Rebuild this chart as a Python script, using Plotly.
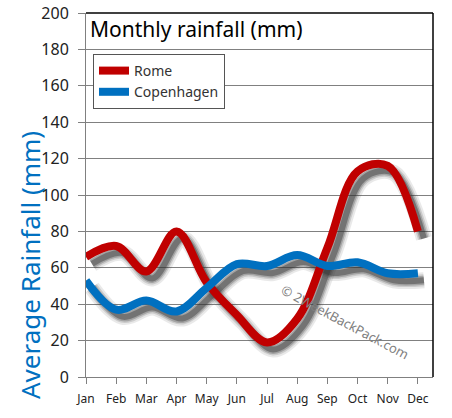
import plotly.graph_objects as go

months = ["Jan", "Feb", "Mar", "Apr", "May", "Jun", "Jul", "Aug", "Sep", "Oct", "Nov", "Dec"]
rome = [66, 72, 58, 80, 52, 34, 19, 32, 71, 113, 116, 80]
copenhagen = [53, 37, 42, 36, 49, 62, 61, 67, 61, 63, 57, 57]
y_ticks = [0, 20, 40, 60, 80, 100, 120, 140, 160, 180, 200]

xs = list(range(len(months)))
FONT = "Noto Sans"
RED = "#c00000"
BLUE = "#0070c0"

fig = go.Figure()

# drop shadows on the base axes (ranges shifted so the shadow sits right/below)
for series in (rome, copenhagen):
    for w, op in ((16, 0.10), (12, 0.16), (9, 0.26), (6, 0.42)):
        fig.add_trace(go.Scatter(x=xs, y=series, mode="lines", xaxis="x", yaxis="y",
                                 line=dict(color="#333333", width=w, shape="spline", smoothing=1.0),
                                 opacity=op, showlegend=False, hoverinfo="skip"))

fig.add_trace(go.Scatter(x=xs, y=rome, mode="lines", name="Rome", xaxis="x2", yaxis="y2",
                         line=dict(color=RED, width=8, shape="spline", smoothing=1.0)))
fig.add_trace(go.Scatter(x=xs, y=copenhagen, mode="lines", name="Copenhagen", xaxis="x2", yaxis="y2",
                         line=dict(color=BLUE, width=8, shape="spline", smoothing=1.0)))

W, H = 452, 418
ml, mr, mt, mb = 86, 19, 13, 41
pw, ph = W - ml - mr, H - mt - mb
xr = [0, 11.5]
yr = [0, 200]
dx = 6 / pw * (xr[1] - xr[0])
dy = 7 / ph * (yr[1] - yr[0])


def px(X):
    return (X - ml) / pw


def py(Y):
    return (H - mb - Y) / ph


fig.update_layout(
    width=W, height=H,
    margin=dict(l=ml, r=mr, t=mt, b=mb),
    paper_bgcolor="white", plot_bgcolor="white",
    font=dict(family=FONT, color="#222222"),
    hovermode=False,
    xaxis=dict(range=[xr[0] - dx, xr[1] - dx], visible=False, automargin=False),
    yaxis=dict(range=[yr[0] + dy, yr[1] + dy], visible=False, automargin=False),
    xaxis2=dict(range=xr, overlaying="x", side="bottom", automargin=False,
                tickmode="array", tickvals=xs, ticktext=months,
                showgrid=False, zeroline=False, showline=True, linecolor="#808080", linewidth=1,
                ticks="outside", ticklen=6, tickcolor="#808080", ticklabelstandoff=5,
                tickfont=dict(size=12, family=FONT, color="#222222")),
    yaxis2=dict(range=yr, overlaying="y", side="left", automargin=False,
                tickmode="array", tickvals=y_ticks, ticklabeloverflow="allow",
                showgrid=True, gridcolor="#808080", gridwidth=1, zeroline=False,
                showline=True, linecolor="#808080", linewidth=1,
                ticks="outside", ticklen=7, tickcolor="#808080", ticklabelstandoff=6,
                tickfont=dict(size=16, family=FONT, color="#222222")),
    legend=dict(x=px(93), y=py(54), xanchor="left", yanchor="top",
                bgcolor="white", bordercolor="#555555", borderwidth=1,
                font=dict(size=14, family=FONT, color="#333333"),
                itemwidth=30, tracegroupgap=2),
    showlegend=True,
)

fig.add_shape(type="line", xref="paper", yref="paper", x0=0, x1=1, y0=1, y1=1,
              line=dict(color="black", width=1.5))
fig.add_shape(type="line", xref="paper", yref="paper", x0=1, x1=1, y0=0, y1=1,
              line=dict(color="black", width=1.5))

fig.add_annotation(text="Monthly rainfall (mm)", xref="paper", yref="paper",
                   x=px(88), y=1, xanchor="left", yanchor="top", showarrow=False,
                   font=dict(size=21, family=FONT, color="black"))
fig.add_annotation(text="Average Rainfall (mm)", xref="paper", yref="paper",
                   x=px(30), y=py(265), xanchor="center", yanchor="middle",
                   textangle=-90, showarrow=False,
                   font=dict(size=26, family=FONT, color=BLUE))
fig.add_annotation(text="© 2WeekBackPack.com", xref="paper", yref="paper",
                   x=px(345), y=py(322), xanchor="center", yanchor="middle",
                   textangle=28, showarrow=False,
                   font=dict(size=13, family=FONT, color="#808080"))

fig.write_html("out.html", config={"displayModeBar": False},
               post_script="document.body.style.margin='0';")
